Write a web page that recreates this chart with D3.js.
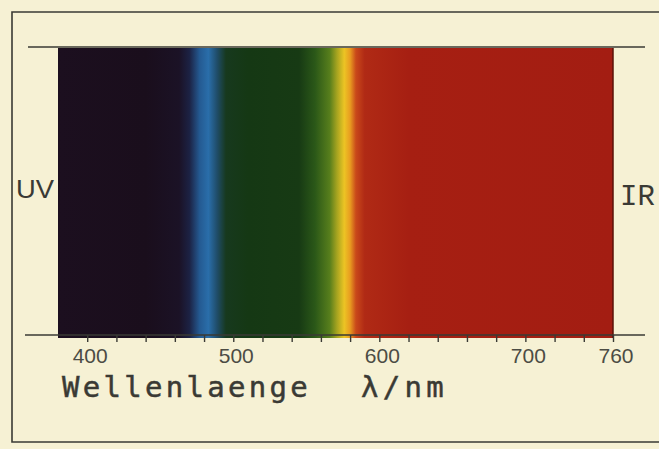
<!DOCTYPE html>
<html>
<head>
<meta charset="utf-8">
<script src="https://cdn.jsdelivr.net/npm/d3@7"></script>
<style>
  html, body { margin: 0; padding: 0; background: #f6f1d4; }
  svg { display: block; }
</style>
</head>
<body>
<svg id="chart" width="659" height="449"></svg>
<script>
// wavelength (nm) -> colour
const stopNm = [380, 440, 463, 470, 477, 483, 489, 495, 510, 545, 556, 566, 571, 576, 580, 584, 590, 620, 760];
const stopColor = ["#1c0f1f", "#1a0e1c", "#1b1226", "#1c2244", "#245a92", "#2a6eaa", "#1f4c68", "#17391e", "#153814", "#173a14", "#2b5818", "#577e1c", "#a6a420", "#ecc424", "#e89c20", "#c9481a", "#b02a15", "#a61f12", "#a31d12"];

const tickValues = [400, 420, 440, 460, 480, 500, 520, 540, 560, 580, 600, 620, 640, 660, 680, 700, 720, 740, 760];
const labelValues = [400, 500, 600, 700, 760];
const axisTitle = "Wellenlaenge";
const unitTitle = "λ/nm";

const width = 659;
const ink = "#3a3a34";

const svg = d3.select("#chart");
const x = d3.scaleLinear().domain([380, 760]).range([58, 613]);
const bandTop = 48;
const axisY = 335;

// outer frame (open on the right)
svg.append("path")
  .attr("d", `M${width},12 H12 V442 H${width}`)
  .attr("fill", "none")
  .attr("stroke", ink)
  .attr("stroke-width", 1.6);

// spectrum band
const grad = svg.append("defs").append("linearGradient")
  .attr("id", "spectrum")
  .attr("x1", "0%").attr("x2", "100%").attr("y1", "0%").attr("y2", "0%");

grad.selectAll("stop")
  .data(stopNm)
  .join("stop")
  .attr("offset", (d) => `${((d - 380) / 380) * 100}%`)
  .attr("stop-color", (d, i) => stopColor[i]);

svg.append("rect")
  .attr("x", x(380))
  .attr("y", bandTop)
  .attr("width", x(760) - x(380))
  .attr("height", axisY - bandTop + 3)
  .attr("fill", "url(#spectrum)");

svg.append("line")
  .attr("x1", x(760)).attr("x2", x(760))
  .attr("y1", bandTop).attr("y2", axisY + 3)
  .attr("stroke", "#5a1208").attr("stroke-width", 1.5);

// top rule
svg.append("line")
  .attr("x1", 28).attr("x2", 645)
  .attr("y1", 47).attr("y2", 47)
  .attr("stroke", ink).attr("stroke-width", 1.6);

// bottom axis
const axis = d3.axisBottom(x)
  .tickValues(tickValues)
  .tickSize(7)
  .tickFormat("");

const axisG = svg.append("g")
  .attr("transform", `translate(0,${axisY})`)
  .call(axis);

axisG.select(".domain").remove();
axisG.selectAll(".tick line").attr("stroke", ink).attr("stroke-width", 1.4);

svg.append("line")
  .attr("x1", 25).attr("x2", 645)
  .attr("y1", axisY).attr("y2", axisY)
  .attr("stroke", ink).attr("stroke-width", 1.6);

svg.append("g")
  .selectAll("text")
  .data(labelValues)
  .join("text")
  .attr("x", (d) => x(d) + 3)
  .attr("y", 363)
  .attr("text-anchor", "middle")
  .attr("font-family", "Liberation Sans, Arial, sans-serif")
  .attr("font-size", 21)
  .attr("fill", "#4c4c44")
  .text((d) => d);

svg.append("text")
  .attr("x", 62)
  .attr("y", 397)
  .attr("font-family", "DejaVu Sans Mono, monospace")
  .attr("font-size", 29)
  .attr("letter-spacing", 3.3)
  .attr("fill", ink)
  .attr("stroke", ink)
  .attr("stroke-width", 0.5)
  .text(axisTitle);

svg.append("text")
  .attr("x", 361)
  .attr("y", 397)
  .attr("font-family", "DejaVu Sans Mono, monospace")
  .attr("font-size", 29)
  .attr("letter-spacing", 4.3)
  .attr("fill", ink)
  .attr("stroke", ink)
  .attr("stroke-width", 0.5)
  .text(unitTitle);

// side labels
svg.append("text")
  .attr("x", 16)
  .attr("y", 198)
  .attr("font-family", "Liberation Sans, Arial, sans-serif")
  .attr("font-size", 25)
  .attr("textLength", 38)
  .attr("lengthAdjust", "spacingAndGlyphs")
  .attr("fill", ink)
  .text("UV");

svg.append("text")
  .attr("x", 620)
  .attr("y", 205)
  .attr("font-family", "Liberation Mono, monospace")
  .attr("font-size", 29)
  .attr("fill", ink)
  .text("IR");
</script>
</body>
</html>
